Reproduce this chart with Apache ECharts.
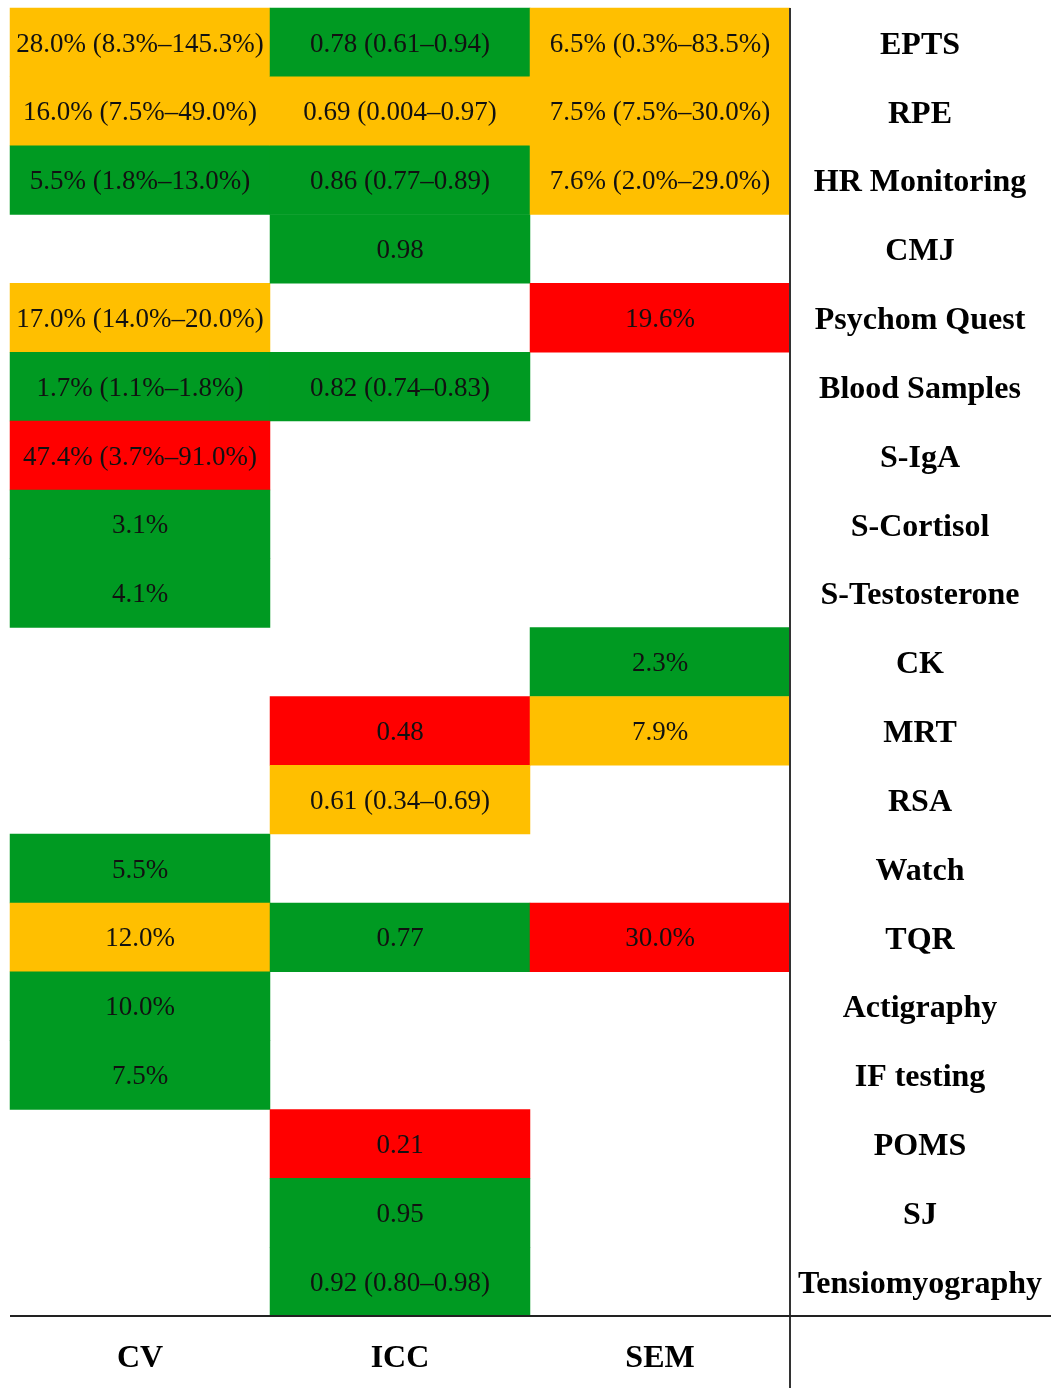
<!DOCTYPE html>
<html>
<head>
<meta charset="utf-8">
<script src="https://cdn.jsdelivr.net/npm/echarts@6/dist/echarts.min.js"></script>
<style>
html,body{margin:0;padding:0;background:#fff;}
#chart{width:1051px;height:1388px;}
</style>
</head>
<body>
<div id="chart"></div>
<script>
// Columns (metrics) and rows (methods)
const metrics = ['CV', 'ICC', 'SEM'];
const methods = ['EPTS', 'RPE', 'HR Monitoring', 'CMJ', 'Psychom Quest', 'Blood Samples',
  'S-IgA', 'S-Cortisol', 'S-Testosterone', 'CK', 'MRT', 'RSA', 'Watch', 'TQR',
  'Actigraphy', 'IF testing', 'POMS', 'SJ', 'Tensiomyography'];

// Cell texts per column ('' = empty cell)
const cvText = ['28.0% (8.3%–145.3%)', '16.0% (7.5%–49.0%)', '5.5% (1.8%–13.0%)', '',
  '17.0% (14.0%–20.0%)', '1.7% (1.1%–1.8%)', '47.4% (3.7%–91.0%)', '3.1%', '4.1%', '',
  '', '', '5.5%', '12.0%', '10.0%', '7.5%', '', '', ''];
const iccText = ['0.78 (0.61–0.94)', '0.69 (0.004–0.97)', '0.86 (0.77–0.89)', '0.98',
  '', '0.82 (0.74–0.83)', '', '', '', '', '0.48', '0.61 (0.34–0.69)', '', '0.77',
  '', '', '0.21', '0.95', '0.92 (0.80–0.98)'];
const semText = ['6.5% (0.3%–83.5%)', '7.5% (7.5%–30.0%)', '7.6% (2.0%–29.0%)', '',
  '19.6%', '', '', '', '', '2.3%', '7.9%', '', '', '30.0%', '', '', '', '', ''];

// Rating per cell: 2 = good (green), 1 = moderate (amber), 0 = poor (red), null = none
const cvRating = [1, 1, 2, null, 1, 2, 0, 2, 2, null, null, null, 2, 1, 2, 2, null, null, null];
const iccRating = [2, 1, 2, 2, null, 2, null, null, null, null, 0, 1, null, 2, null, null, 0, 2, 2];
const semRating = [1, 1, 1, null, 0, null, null, null, null, 2, 1, null, null, 0, null, null, null, null, null];

const texts = [cvText, iccText, semText];
const ratings = [cvRating, iccRating, semRating];

const data = [];
ratings.forEach((col, xi) => {
  col.forEach((r, yi) => {
    if (r !== null) data.push({ value: [xi, yi, r], text: texts[xi][yi] });
  });
});

const serif = '"Liberation Serif", "DejaVu Serif", serif';
const chart = echarts.init(document.getElementById('chart'), null, { renderer: 'canvas' });

chart.setOption({
  backgroundColor: '#ffffff',
  animation: false,
  grid: { left: 10, right: 261, top: 8, bottom: 72, containLabel: false },
  xAxis: {
    type: 'category',
    data: metrics,
    position: 'bottom',
    axisLine: { show: false },
    axisTick: { show: false },
    splitLine: { show: false },
    axisLabel: {
      margin: 43,
      verticalAlign: 'middle',
      fontFamily: serif,
      fontWeight: 'bold',
      fontSize: 32,
      color: '#000'
    }
  },
  yAxis: {
    type: 'category',
    data: methods,
    inverse: true,
    position: 'right',
    axisLine: { show: false },
    axisTick: { show: false },
    splitLine: { show: false },
    axisLabel: {
      margin: 130,
      align: 'center',
      verticalAlign: 'middle',
      formatter: v => '{t|' + v + '}',
      rich: {
        t: {
          padding: [6, 0, 0, 0],
          fontFamily: serif,
          fontWeight: 'bold',
          fontSize: 32,
          color: '#000'
        }
      }
    }
  },
  visualMap: {
    show: false,
    type: 'piecewise',
    dimension: 2,
    pieces: [
      { value: 0, color: '#FF0000' },
      { value: 1, color: '#FFBF00' },
      { value: 2, color: '#009A22' }
    ]
  },
  series: [{
    type: 'heatmap',
    data: data,
    itemStyle: { borderWidth: 0 },
    label: {
      show: true,
      formatter: p => p.data.text,
      offset: [0, 2],
      fontFamily: serif,
      fontSize: 27,
      color: '#111'
    },
    emphasis: { disabled: true }
  }],
  graphic: [
    { type: 'line', shape: { x1: 790, y1: 8, x2: 790, y2: 1388 }, style: { stroke: '#333', lineWidth: 2 }, z: 100 },
    { type: 'line', shape: { x1: 10, y1: 1316, x2: 1051, y2: 1316 }, style: { stroke: '#222', lineWidth: 2 }, z: 100 }
  ]
});
</script>
</body>
</html>
